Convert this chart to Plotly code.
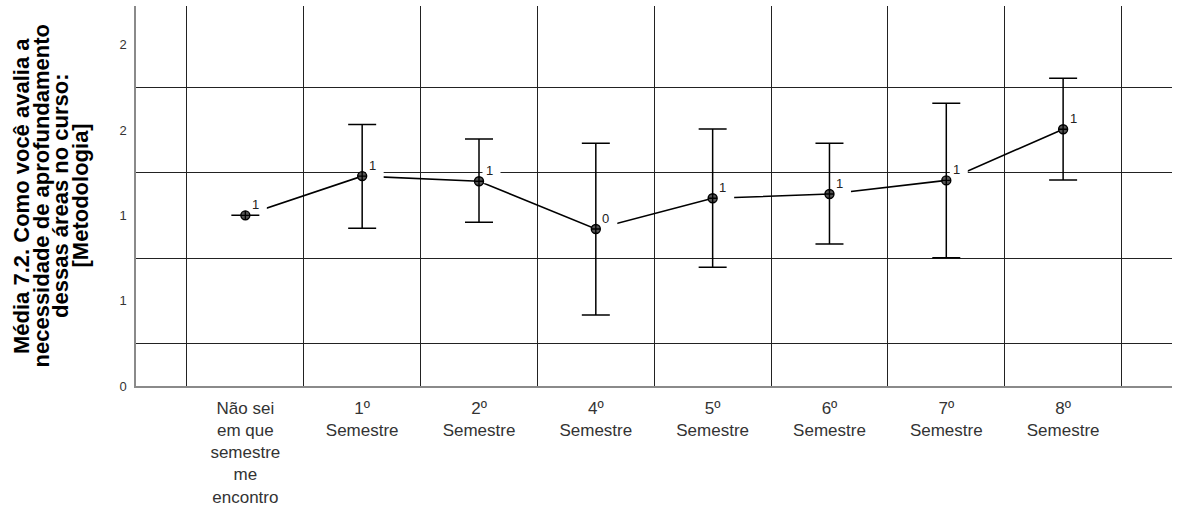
import plotly.graph_objects as go

# ---- data ----
categories = ["Não sei<br>em que<br>semestre<br>me<br>encontro", "1º<br>Semestre", "2º<br>Semestre",
              "4º<br>Semestre", "5º<br>Semestre", "6º<br>Semestre", "7º<br>Semestre", "8º<br>Semestre"]
means = [1.0, 1.23, 1.20, 0.92, 1.10, 1.125, 1.205, 1.505]
ci_upper = [1.0, 1.532, 1.448, 1.423, 1.506, 1.423, 1.657, 1.804]
ci_lower = [1.0, 0.925, 0.960, 0.416, 0.696, 0.832, 0.752, 1.207]
point_labels = ["1", "1", "1", "0", "1", "1", "1", "1"]
y_tick_vals = [0, 0.5, 1.0, 1.5, 2.0]
y_tick_text = ["0", "1", "1", "2", "2"]
y_grid_vals = [0.25, 0.75, 1.25, 1.75]
y_title_lines = ["Média 7.2. Como você avalia a", "necessidade de aprofundamento",
                 "dessas áreas no curso:", "[Metodologia]"]

# ---- layout geometry ----
W, H = 1181, 514
ML, MR, MT, MB = 136, 9, 6, 128
PW, PH = W - ML - MR, H - MT - MB
x_pos = list(range(len(categories)))
x_grid_vals = [i - 0.5 for i in range(len(categories) + 1)]
XR = [-0.936, 7.932]
YR = [0, 2.227]
px_x = PW / (XR[1] - XR[0])
px_y = PH / (YR[1] - YR[0])

# label-box layer offset (pixels): right 12.5, up 7
bx, by = 12.5, 7
XR2 = [XR[0] - bx / px_x, XR[1] - bx / px_x]
YR2 = [YR[0] - by / px_y, YR[1] - by / px_y]

err_plus = [u - m for u, m in zip(ci_upper, means)]
err_minus = [m - l for m, l in zip(means, ci_lower)]

FONT = "Arial, Liberation Sans, sans-serif"

fig = go.Figure()
# connecting line (bottom layer)
fig.add_trace(go.Scatter(x=x_pos, y=means, mode="lines",
                         line=dict(color="black", width=1.6), hoverinfo="skip", showlegend=False))
# white label boxes (middle layer)
fig.add_trace(go.Scatter(x=x_pos, y=means, mode="markers", xaxis="x2", yaxis="y2",
                         marker=dict(symbol="square", size=18, color="white", line=dict(width=0)),
                         hoverinfo="skip", showlegend=False, cliponaxis=False))
# markers and error bars (top layer)
fig.add_trace(go.Scatter(x=x_pos, y=means, mode="markers", xaxis="x3", yaxis="y3",
                         marker=dict(symbol="circle-cross", size=9, color="#555555",
                                     line=dict(color="black", width=1.4)),
                         error_y=dict(type="data", symmetric=False, array=err_plus, arrayminus=err_minus,
                                      color="black", thickness=1.5, width=14),
                         showlegend=False, cliponaxis=False))

for xp, m, t in zip(x_pos, means, point_labels):
    fig.add_annotation(x=xp, y=m, text=t, showarrow=False, xshift=10, yshift=11,
                       font=dict(size=13, color="#222222", family=FONT))

# rotated y-axis title, one annotation per line for tight line spacing
for i, line in enumerate(y_title_lines):
    cx = 21 + 19.5 * i
    fig.add_annotation(xref="paper", yref="paper", x=(cx - ML) / PW, y=0.5, text=line,
                       textangle=-90, showarrow=False, xanchor="center", yanchor="middle",
                       font=dict(size=22, color="black", family=FONT, weight="bold"))

fig.update_layout(
    width=W, height=H,
    margin=dict(l=ML, r=MR, t=MT, b=MB),
    paper_bgcolor="white", plot_bgcolor="white",
    font=dict(family=FONT, color="#333333"),
    xaxis=dict(range=XR, tickmode="array", tickvals=x_pos, ticktext=categories,
               showgrid=False, zeroline=False, ticks="", ticklabelstandoff=6,
               tickfont=dict(size=17, color="#333333"),
               showline=True, linecolor="#8a8a8a", linewidth=1.5,
               minor=dict(tickmode="array", tickvals=x_grid_vals, showgrid=True,
                          gridcolor="#222222", gridwidth=1, ticks="")),
    yaxis=dict(range=YR, tickmode="array", tickvals=y_tick_vals, ticktext=y_tick_text,
               showgrid=False, zeroline=False, ticks="", ticklabelstandoff=5,
               tickfont=dict(size=13, color="#333333"),
               showline=True, linecolor="#8a8a8a", linewidth=1.5,
               minor=dict(tickmode="array", tickvals=y_grid_vals, showgrid=True,
                          gridcolor="#222222", gridwidth=1, ticks="")),
    xaxis2=dict(range=XR2, overlaying="x", visible=False, fixedrange=True),
    yaxis2=dict(range=YR2, overlaying="y", visible=False, fixedrange=True),
    xaxis3=dict(range=XR, overlaying="x", visible=False, fixedrange=True),
    yaxis3=dict(range=YR, overlaying="y", visible=False, fixedrange=True),
)

fig.write_html("out.html")
